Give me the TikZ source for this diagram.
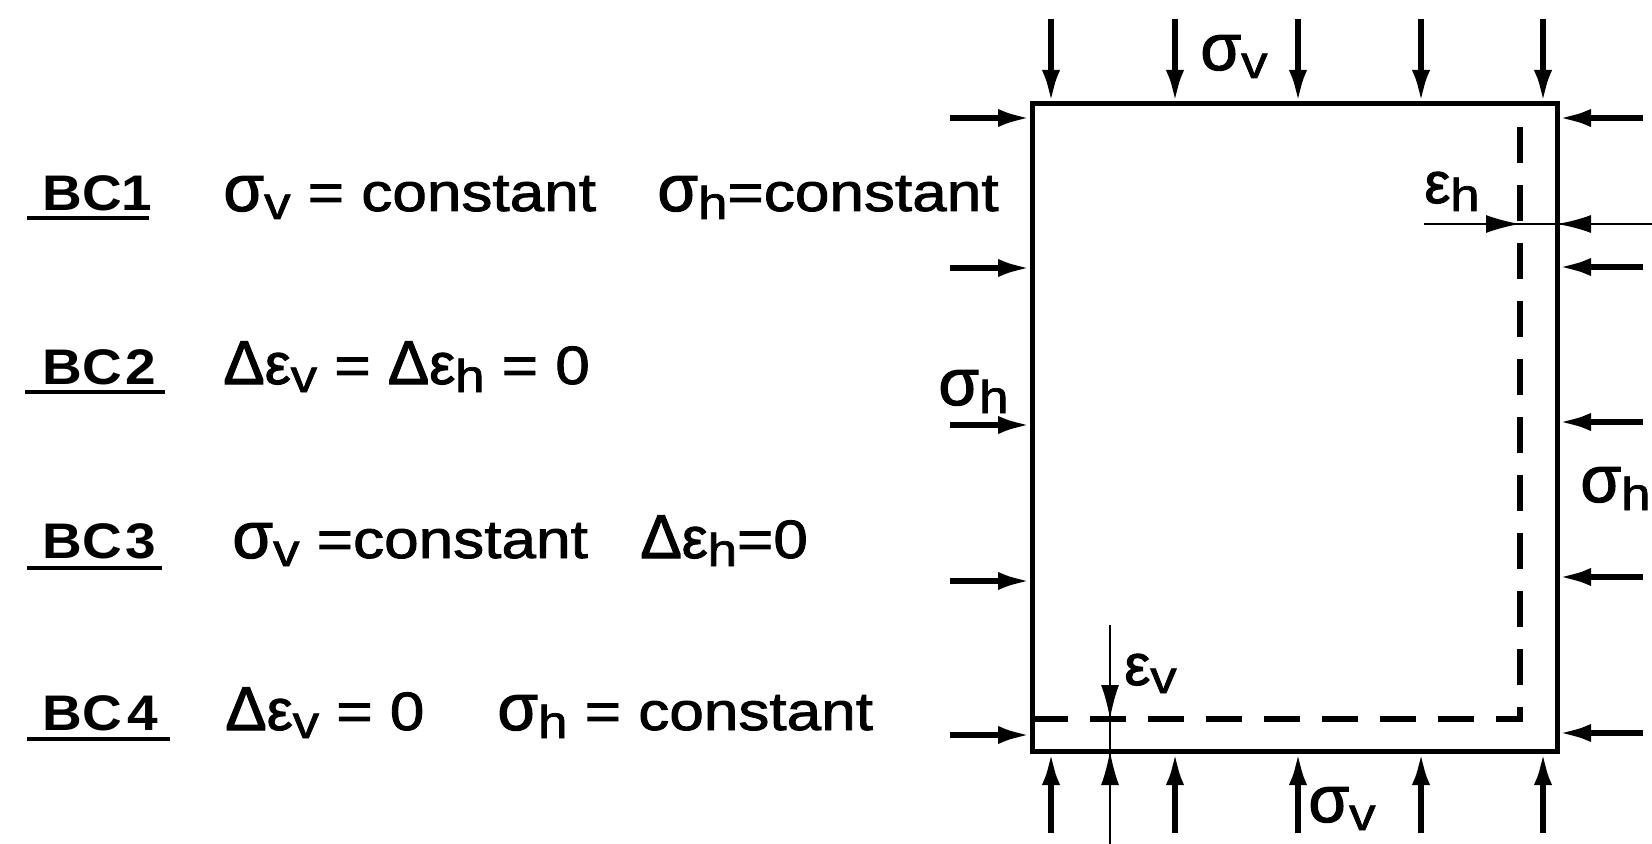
\documentclass[tikz,border=0pt]{standalone}
\usepackage{fontspec}
\setmainfont{Liberation Sans}[FakeStretch=1.15, FakeBold=1.6]
\newfontfamily\grfont{Liberation Sans}[FakeBold=1.8]
\newfontfamily\bcfont{Liberation Sans}[FakeStretch=1.1]
\usetikzlibrary{arrows.meta}
\newcommand\sg{{\grfont\fontsize{33pt}{33pt}\selectfont σ}}
\newcommand\ep{{\grfont\fontsize{29pt}{29pt}\selectfont ε}}
\newcommand\Dl{{\grfont\fontsize{31pt}{31pt}\selectfont Δ}}
\newcommand\lo[1]{\raisebox{-4pt}{\fontsize{23pt}{23pt}\selectfont #1}}
\tikzset{
  txt/.style={anchor=base west, inner sep=0pt, font=\fontsize{27pt}{30pt}\selectfont},
  bc/.style={anchor=base west, inner sep=0pt, font=\bcfont\bfseries\fontsize{25pt}{28pt}\selectfont},
  uline/.style={line width=1.6pt},
  force/.style={line width=3.2pt, -{Latex[length=17pt,width=9pt]}},
  thinline/.style={line width=1pt},
  mtip/.style={line width=1pt, -{Latex[length=17pt,width=9pt]}},
  specimen/.style={line width=2.5pt},
  dsh/.style={line width=2.6pt, dash pattern=on 18pt off 11pt},
}
\begin{document}
\begin{tikzpicture}[x=0.5pt,y=-0.5pt]
\useasboundingbox (0,0) rectangle (1652,844);
% left text
\node[bc] (bc1) at (42,211) {BC1};
\node[bc] (bc2) at (42,384) {BC\kern2pt 2};
\node[bc] (bc3) at (42,558) {BC\kern2pt 3};
\node[bc] (bc4) at (42,730) {BC\kern3pt 4};
\draw[uline] (27,218) -- (149,218);
\draw[uline] (25,392) -- (165,392);
\draw[uline] (27,568) -- (162,568);
\draw[uline] (27,739) -- (170,739);
\node[txt] (r1a) at (223,211) {\sg\lo{v} = constant};
\node[txt] (r1b) at (657,211) {\sg\lo{h}=constant};
\node[txt] (r2a) at (223,384) {\Dl\ep\lo{v} = \Dl\ep\lo{h} = 0};
\node[txt] (r3a) at (232,558) {\sg\lo{v} =constant};
\node[txt] (r3b) at (640,558) {\Dl\ep\lo{h}=0};
\node[txt] (r4a) at (225,730) {\Dl\ep\lo{v} = 0};
\node[txt] (r4b) at (497,730) {\sg\lo{h} = constant};
% specimen
\draw[specimen] (1032,104) rectangle (1557,751);
\draw[dsh] (1032,719) -- (1520,719) -- (1520,104);
% forces
\foreach \x in {1051,1175,1298,1421,1543} {
  \draw[force] (\x,19) -- (\x,104);
  \draw[force] (\x,833) -- (\x,751);
}
\foreach \y in {118,268,425,581,735} \draw[force] (950,\y) -- (1032,\y);
\foreach \y in {118,267,422,577,733} \draw[force] (1643,\y) -- (1557,\y);
% strain measures
\draw[thinline] (1424,224) -- (1652,224);
\draw[mtip] (1470,224) -- (1520,224);
\draw[mtip] (1610,224) -- (1557,224);
\draw[thinline] (1110,625) -- (1110,844);
\draw[mtip] (1110,670) -- (1110,719);
\draw[mtip] (1110,800) -- (1110,751);
% labels
\node[txt] (sv1) at (1200,70) {\sg\lo{v}};
\node[txt] (sv2) at (1308,822) {\sg\lo{v}};
\node[txt] (sh1) at (938,405) {\sg\lo{h}};
\node[txt] (sh2) at (1580,502) {\sg\lo{h}};
\node[txt] (eh) at (1424,203) {\ep\lo{h}};
\node[txt] (ev) at (1124,685) {\ep\lo{v}};
\end{tikzpicture}
\end{document}
